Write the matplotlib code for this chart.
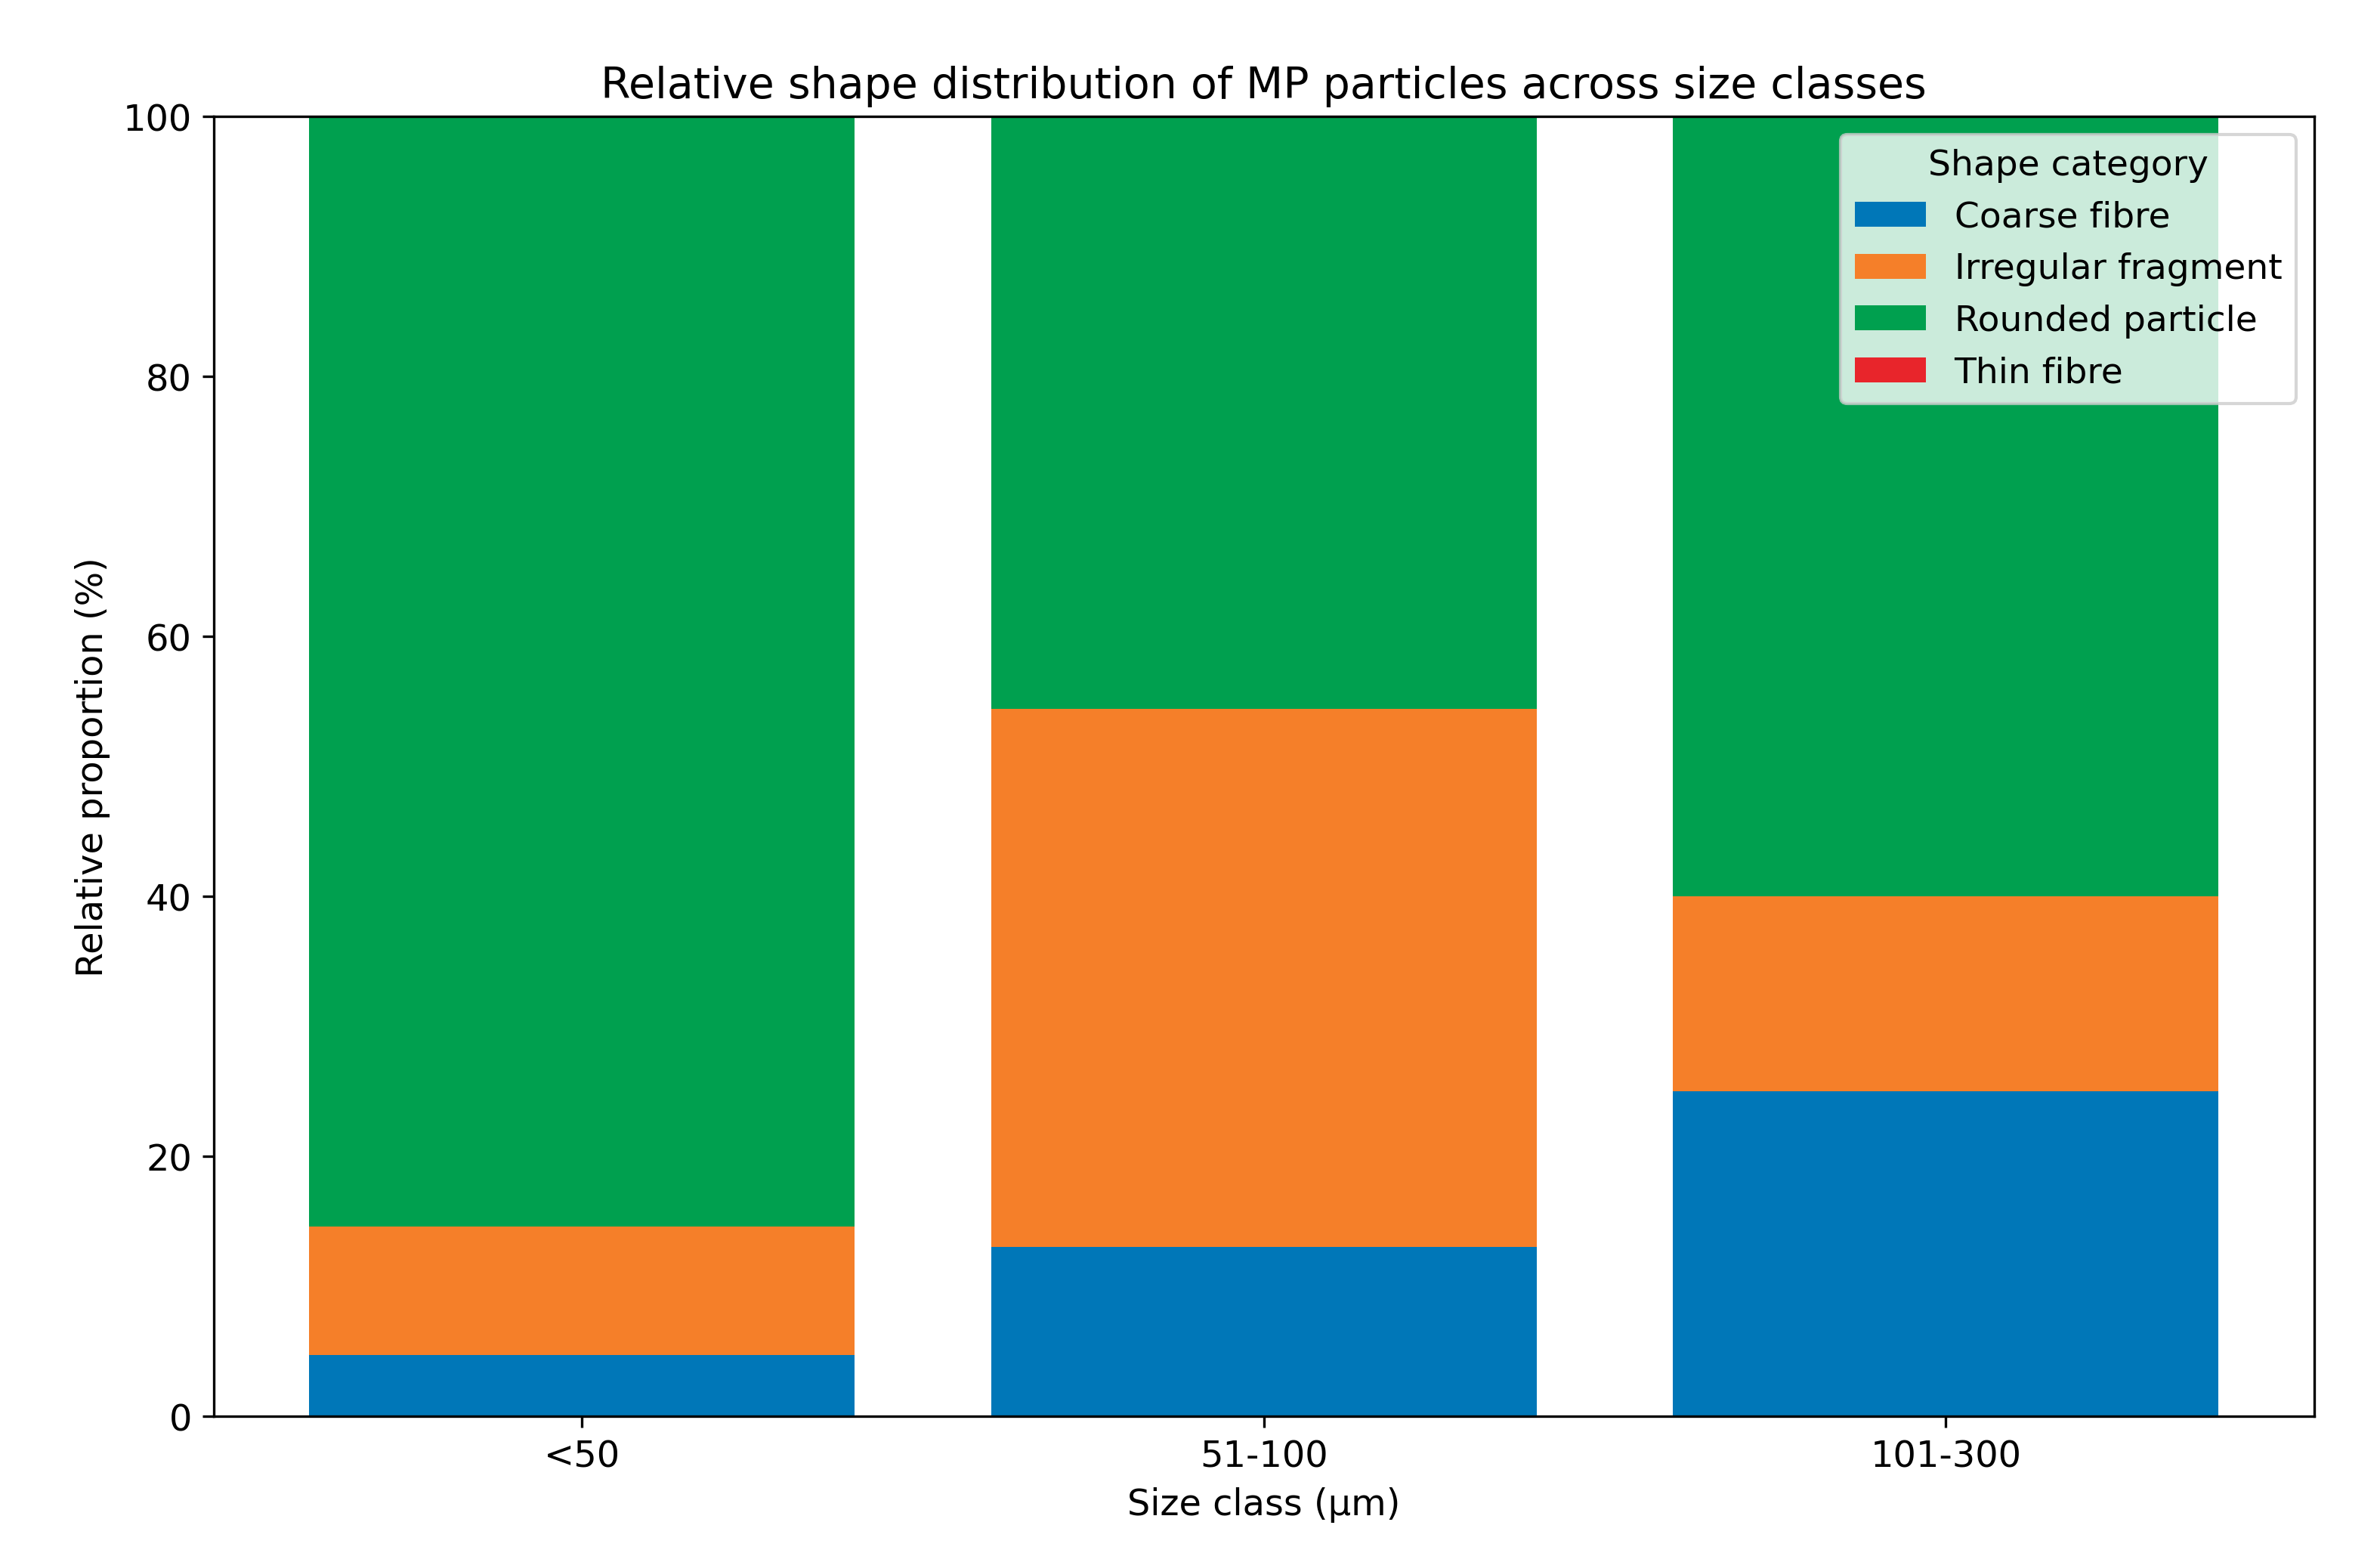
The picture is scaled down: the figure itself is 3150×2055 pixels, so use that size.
import numpy as np
import matplotlib
matplotlib.use('Agg')
from matplotlib import pyplot as plt

# size classes and shape proportions (%)
size_classes = ['<50', '51-100', '101-300']
coarse_fibre = [4.7, 13.0, 25.0]
irregular_fragment = [9.9, 41.4, 15.0]
rounded_particle = [85.4, 45.6, 60.0]
thin_fibre = [0.0, 0.0, 0.0]

shape_names = ['Coarse fibre', 'Irregular fragment', 'Rounded particle', 'Thin fibre']
shape_colors = ['#0077b8', '#f57f29', '#00a04f', '#e8252b']

plt.rcParams['font.size'] = 11.5

fig, ax = plt.subplots(figsize=(10.503, 6.853), dpi=300)
fig.subplots_adjust(left=0.0898, right=0.972, top=0.9246, bottom=0.088)

x = np.arange(len(size_classes))
bottom = np.zeros(len(size_classes))
for name, vals, col in zip(shape_names,
                           [coarse_fibre, irregular_fragment, rounded_particle, thin_fibre],
                           shape_colors):
    ax.bar(x, vals, 0.8, bottom=bottom, color=col, label=name)
    bottom += np.array(vals)

ax.set_xticks(x)
ax.set_xticklabels(size_classes)
ax.set_ylim(0, 100)
ax.set_xlabel('Size class (µm)')
ax.set_ylabel('Relative proportion (%)')
ax.set_title('Relative shape distribution of MP particles across size classes', fontsize=13.7)
ax.legend(title='Shape category', loc='upper right', fontsize=11.3, title_fontsize=11.3)

plt.savefig('out.png', dpi=300)
